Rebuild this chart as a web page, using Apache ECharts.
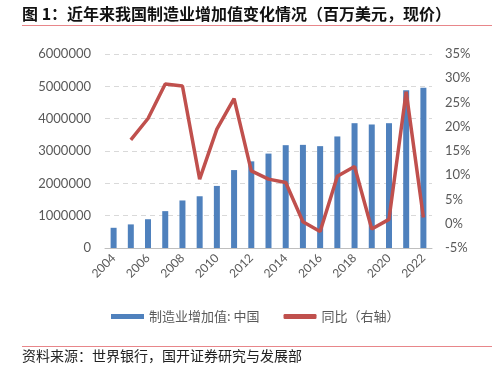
<!DOCTYPE html>
<html><head><meta charset="utf-8">
<script src="https://cdn.jsdelivr.net/npm/echarts@6/dist/echarts.min.js"></script>
<style>html,body{margin:0;padding:0;background:#fff;}#c{width:492px;height:375px;}</style>
</head><body><div id="c"></div>
<script>
const years = ['2004','2005','2006','2007','2008','2009','2010','2011','2012','2013','2014','2015','2016','2017','2018','2019','2020','2021','2022'];
const mva = [625000,730000,890000,1140000,1470000,1600000,1920000,2410000,2680000,2920000,3180000,3190000,3150000,3450000,3860000,3820000,3860000,4880000,4960000];
const yoy = [null,17.3,21.7,28.8,28.4,9.2,19.5,25.8,10.9,9.2,8.5,0.4,-1.6,9.8,11.8,-1.1,0.9,27.2,1.3];
const leftTicks = [0,6000000,1000000];
const rightTicks = [-5,35,5];

const chart = echarts.init(document.getElementById('c'));
const cjk = '"Noto Sans CJK SC", "Noto Sans", sans-serif';
const lab = 'Lato, "Noto Sans", sans-serif';
chart.setOption({
  animation:false,
  grid:{left:105,right:60,top:54,bottom:127},
  graphic:[
    {type:'text',left:22,top:6,style:{text:'图 1：近年来我国制造业增加值变化情况（百万美元，现价）',font:'bold 16px '+cjk,fill:'#111'}},
    {type:'rect',shape:{x:22,y:25,width:470,height:1},style:{fill:'#e8868a'}},
    {type:'rect',shape:{x:22,y:346,width:470,height:1},style:{fill:'#e8868a'}},
    {type:'text',left:22,top:349,style:{text:'资料来源：世界银行，国开证券研究与发展部',font:'14px '+cjk,fill:'#222'}}
  ],
  legend:{
    top:305,left:106,itemGap:24,itemWidth:33,itemHeight:5,
    textStyle:{fontFamily:cjk,fontSize:13,color:'#595959'},
    data:[{name:'制造业增加值: 中国',icon:'rect'},{name:'同比（右轴）',icon:'roundRect'}]
  },
  xAxis:{type:'category',data:years,boundaryGap:true,
    axisLine:{lineStyle:{color:'#bfbfbf'}},
    axisTick:{interval:1,length:4,lineStyle:{color:'#bfbfbf'}},
    axisLabel:{interval:1,rotate:45,color:'#595959',fontFamily:lab,fontSize:12,margin:8}
  },
  yAxis:[
    {type:'value',min:leftTicks[0],max:leftTicks[1],interval:leftTicks[2],
     axisLine:{show:false},axisTick:{show:false},
     axisLabel:{color:'#595959',fontFamily:lab,fontSize:13,margin:14,formatter:function(v){return String(v);}},
     splitLine:{lineStyle:{color:'#d9d9d9',type:[5,4]}}},
    {type:'value',min:rightTicks[0],max:rightTicks[1],interval:rightTicks[2],
     axisLine:{show:false},axisTick:{show:false},
     axisLabel:{color:'#595959',fontFamily:lab,fontSize:13,margin:13,formatter:'{value}%'},
     splitLine:{show:false}}
  ],
  series:[
    {name:'制造业增加值: 中国',type:'bar',data:mva,barWidth:6,itemStyle:{color:'#4f81bd'}},
    {name:'同比（右轴）',type:'line',yAxisIndex:1,data:yoy,symbol:'none',
     lineStyle:{color:'#c0504d',width:3.5},itemStyle:{color:'#c0504d'}}
  ]
});
</script></body></html>
